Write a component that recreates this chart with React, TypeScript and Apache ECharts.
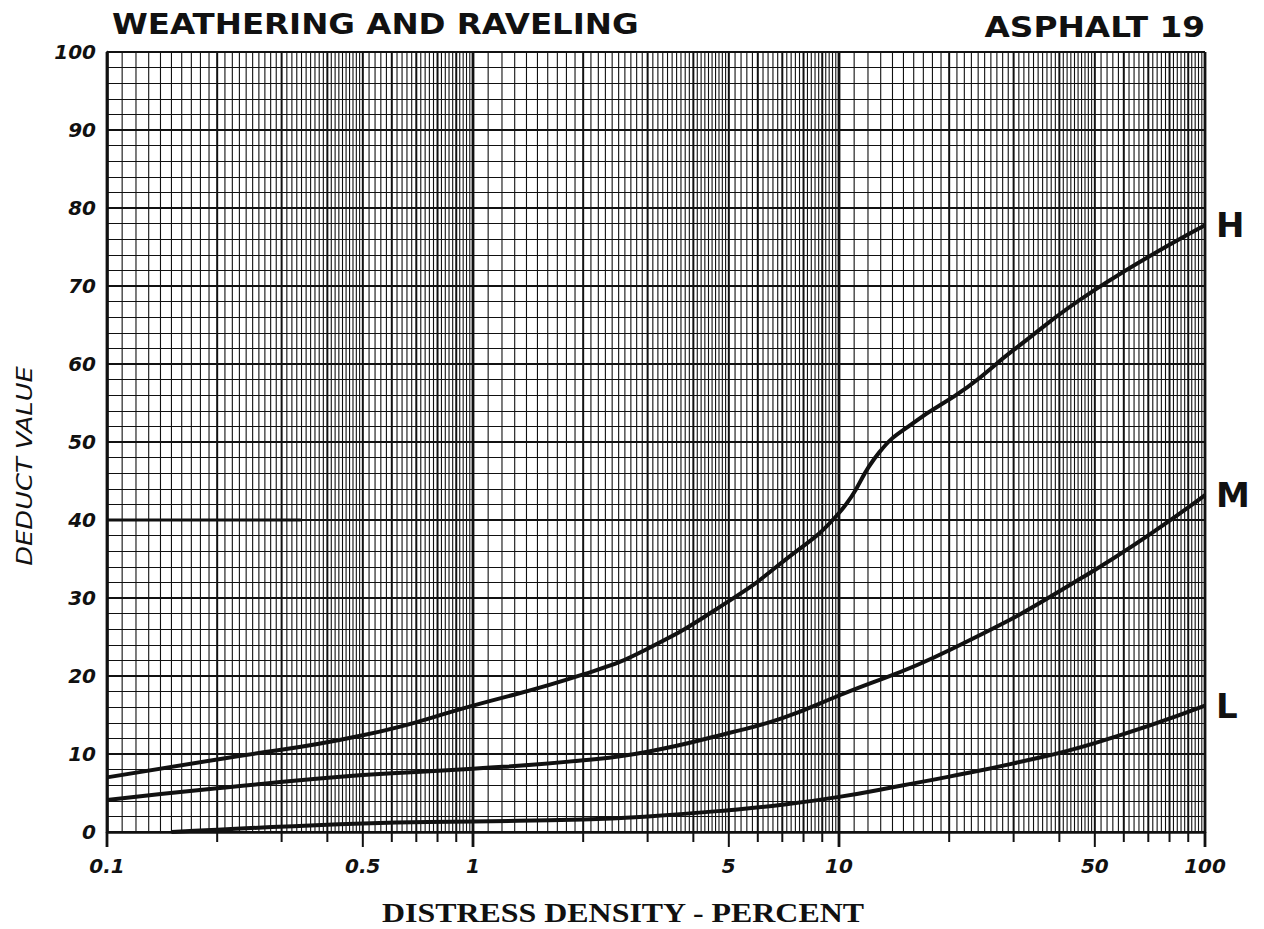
import React, { useEffect, useRef } from "react";
import * as echarts from "echarts";

// ---- Data ----
const H_X = [0.1, 0.2, 0.5, 1, 2, 3, 5, 7, 10, 12.9, 15.9, 22.4, 30, 50, 100];
const H_Y = [7.0, 9.3, 12.4, 16.2, 20.2, 23.5, 29.6, 34.6, 40.9, 48.7, 52.4, 57.0, 61.8, 69.5, 77.8];

const M_X = [0.1, 0.2, 0.5, 1, 2, 3, 5, 7, 10, 20, 50, 100];
const M_Y = [4.1, 5.6, 7.3, 8.1, 9.2, 10.3, 12.7, 14.6, 17.5, 23.3, 33.6, 43.2];

const L_X = [0.15, 0.2, 0.5, 1, 2, 3, 5, 7, 10, 15, 20, 30, 50, 100];
const L_Y = [0.0, 0.3, 1.1, 1.35, 1.6, 2.0, 2.8, 3.5, 4.5, 6.0, 7.1, 8.8, 11.4, 16.2];

// stray horizontal mark at 40 on the left
const MARK_X = [0.1, 0.34];
const MARK_Y = [40, 40];

const X_LABEL_VALUES = [0.1, 0.5, 1, 5, 10, 50, 100];
const X_LABEL_TEXT = ["0.1", "0.5", "1", "5", "10", "50", "100"];

const DECADES = [0.1, 1, 10];

// log-paper vertical rulings: 1..5 step 0.1, 5..10 step 0.2 in each decade
// kind: 0 = fine, 1 = integer multiple, 2 = integer multiple with long tick (5s), 3 = decade line
function buildRulings() {
  const out: number[][] = [];
  for (const d of DECADES) {
    for (let k = 10; k < 50; k++) {
      const v = (k * d) / 10;
      const kind = k === 10 ? 3 : k % 10 === 0 ? 1 : 0;
      out.push([v, kind]);
    }
    for (let k = 25; k < 50; k++) {
      const v = (k * d) / 5;
      const kind = k === 25 ? 2 : k % 5 === 0 ? 1 : 0;
      out.push([v, kind]);
    }
  }
  out.push([100, 3]);
  return out;
}

const INK = "#111111";

export default function App() {
  const ref = useRef<HTMLDivElement>(null);

  useEffect(() => {
    if (!ref.current) return;
    const chart = echarts.init(ref.current, null, { renderer: "svg" });
    const rulings = buildRulings();

    const curve = (name: string, xs: number[], ys: number[]) => ({
      name,
      type: "line",
      data: xs.map((x, i) => [x, ys[i]]),
      smooth: 0.5,
      symbol: "none",
      z: 5,
      lineStyle: { color: INK, width: 4 },
      endLabel: {
        show: true,
        formatter: "{a}",
        fontFamily: "DejaVu Sans",
        fontWeight: "bold",
        fontSize: 34,
        color: INK,
        distance: 11,
      },
    });

    chart.setOption({
      animation: false,
      backgroundColor: "#ffffff",
      grid: { left: 107, right: 59, top: 52, bottom: 97, containLabel: false },
      xAxis: {
        type: "log",
        logBase: 10,
        min: 0.1,
        max: 100,
        splitLine: { show: false },
        minorSplitLine: { show: false },
        axisTick: { show: false },
        axisLine: { show: true, lineStyle: { color: INK, width: 2.5 } },
        axisLabel: {
          customValues: X_LABEL_VALUES,
          formatter: (v: number) => {
            const i = X_LABEL_VALUES.findIndex((x) => Math.abs(x - v) / x < 1e-6);
            return i >= 0 ? X_LABEL_TEXT[i] : "";
          },
          fontFamily: "DejaVu Sans",
          fontStyle: "italic",
          fontWeight: "bold",
          fontSize: 20,
          color: INK,
          margin: 24,
        },
      },
      yAxis: {
        type: "value",
        min: 0,
        max: 100,
        interval: 10,
        splitNumber: 10,
        axisLine: { show: true, lineStyle: { color: INK, width: 2.5 } },
        axisTick: { show: false },
        minorTick: { show: false, splitNumber: 5 },
        splitLine: { show: true, lineStyle: { color: INK, width: 1.8 } },
        minorSplitLine: { show: true, lineStyle: { color: INK, width: 1.1 } },
        axisLabel: {
          fontFamily: "DejaVu Sans",
          fontStyle: "italic",
          fontWeight: "bold",
          fontSize: 20,
          color: INK,
          margin: 11,
        },
      },
      graphic: [
        {
          type: "text",
          x: 112,
          y: 24,
          scaleX: 1.16,
          style: {
            text: "WEATHERING AND RAVELING",
            font: "bold 28px 'DejaVu Sans'",
            fill: INK,
            align: "left",
            verticalAlign: "middle",
            textAlign: "left",
            textVerticalAlign: "middle",
          },
        },
        {
          type: "text",
          x: 1205,
          y: 27,
          scaleX: 1.17,
          style: {
            text: "ASPHALT 19",
            font: "bold 28px 'DejaVu Sans'",
            fill: INK,
            align: "right",
            verticalAlign: "middle",
            textAlign: "right",
            textVerticalAlign: "middle",
          },
        },
        {
          type: "text",
          x: 25,
          y: 466,
          rotation: Math.PI / 2,
          scaleX: 1.17,
          style: {
            text: "DEDUCT VALUE",
            font: "italic 22px 'DejaVu Sans'",
            fill: INK,
            align: "center",
            verticalAlign: "middle",
            textAlign: "center",
            textVerticalAlign: "middle",
          },
        },
        {
          type: "text",
          x: 623,
          y: 912,
          scaleX: 1.14,
          style: {
            text: "DISTRESS DENSITY - PERCENT",
            font: "bold 28px 'Liberation Serif'",
            fill: INK,
            align: "center",
            verticalAlign: "middle",
            textAlign: "center",
            textVerticalAlign: "middle",
          },
        },
      ],
      series: [
        {
          name: "rulings",
          type: "custom",
          silent: true,
          z: 1,
          clip: false,
          data: rulings,
          renderItem: (params: any, api: any) => {
            const v = api.value(0);
            const kind = api.value(1);
            const top = api.coord([v, 100]);
            const bot = api.coord([v, 0]);
            const ext = kind === 0 ? 0 : kind === 1 ? 10 : 15;
            const w = kind === 0 ? 1.1 : kind === 3 ? 2.8 : 2;
            return {
              type: "line",
              shape: { x1: top[0], y1: top[1], x2: bot[0], y2: bot[1] + ext },
              style: { stroke: INK, lineWidth: w },
            };
          },
        },
        {
          name: "mark40",
          type: "line",
          data: MARK_X.map((x, i) => [x, MARK_Y[i]]),
          symbol: "none",
          silent: true,
          z: 4,
          lineStyle: { color: INK, width: 3 },
        },
        curve("H", H_X, H_Y),
        curve("M", M_X, M_Y),
        curve("L", L_X, L_Y),
      ],
    });

    return () => chart.dispose();
  }, []);

  return (
    <div
      ref={ref}
      style={{ position: "fixed", left: 0, top: 0, width: 1264, height: 929, background: "#fff" }}
    />
  );
}
